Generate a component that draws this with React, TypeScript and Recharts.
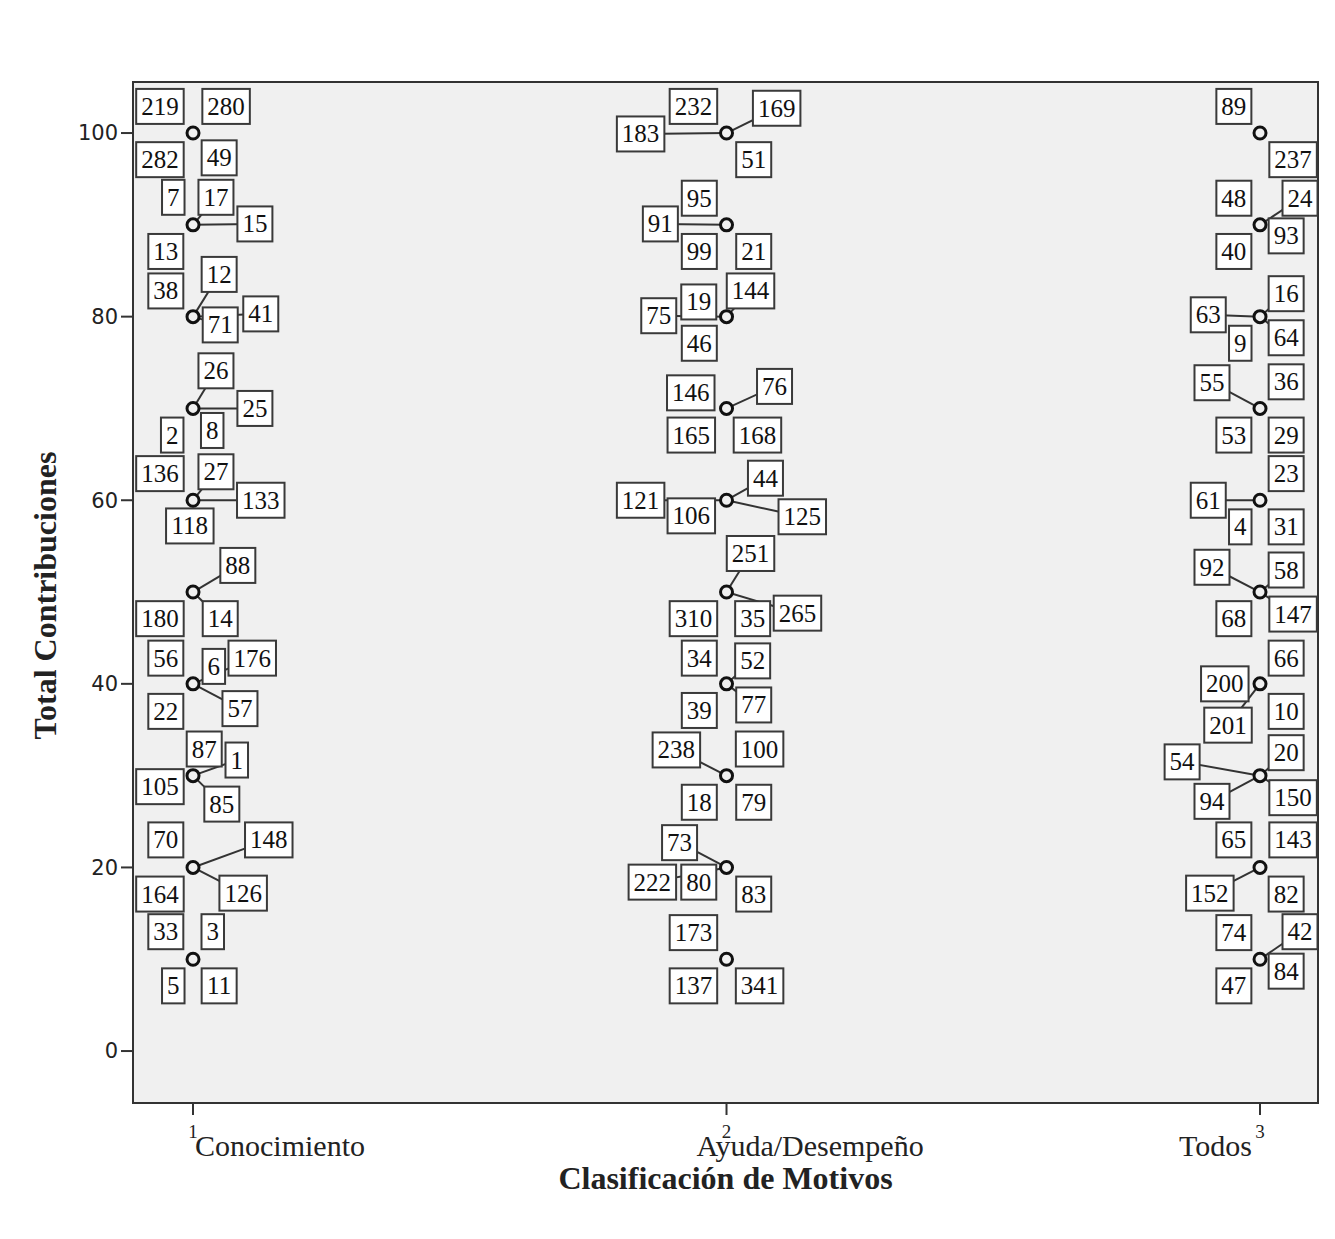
import React from 'react';
import { ScatterChart, Scatter, XAxis, YAxis, CartesianGrid, ReferenceArea } from 'recharts';

// ---- data ----
const categoryCodes = [1, 2, 3];
const categoryNames = ['Conocimiento', 'Ayuda/Desempeño', 'Todos'];
const yTicks = [0, 20, 40, 60, 80, 100];

const valuesConocimiento = [10, 20, 30, 40, 50, 60, 70, 80, 90, 100];
const valuesAyuda = [10, 20, 30, 40, 50, 60, 70, 80, 90, 100];
const valuesTodos = [10, 20, 30, 40, 50, 60, 70, 80, 90, 100];

// [point value, case id, label x offset (category units), label y (value units), leader line]
const labelsConocimiento = [
  [100, 219, -0.062, 102.9, 0], [100, 280, 0.062, 102.9, 0], [100, 282, -0.062, 97.1, 0], [100, 49, 0.049, 97.3, 0],
  [90, 7, -0.037, 93.0, 0], [90, 17, 0.043, 93.0, 1], [90, 15, 0.116, 90.1, 1], [90, 13, -0.051, 87.1, 0],
  [80, 38, -0.051, 82.8, 0], [80, 12, 0.049, 84.6, 1], [80, 41, 0.127, 80.3, 1], [80, 71, 0.051, 79.1, 1],
  [70, 26, 0.043, 74.1, 1], [70, 25, 0.116, 70.0, 1], [70, 2, -0.039, 67.1, 0], [70, 8, 0.036, 67.6, 0],
  [60, 136, -0.062, 62.9, 0], [60, 27, 0.043, 63.1, 1], [60, 133, 0.127, 60.0, 1], [60, 118, -0.006, 57.2, 0],
  [50, 88, 0.084, 52.9, 1], [50, 180, -0.062, 47.1, 0], [50, 14, 0.051, 47.1, 1],
  [40, 56, -0.051, 42.8, 0], [40, 6, 0.039, 41.9, 0], [40, 176, 0.111, 42.8, 1], [40, 22, -0.051, 37.0, 0], [40, 57, 0.088, 37.3, 1],
  [30, 87, 0.021, 32.9, 0], [30, 1, 0.082, 31.7, 1], [30, 105, -0.062, 28.8, 0], [30, 85, 0.054, 26.9, 1],
  [20, 70, -0.051, 23.0, 0], [20, 148, 0.142, 23.0, 1], [20, 164, -0.062, 17.1, 0], [20, 126, 0.094, 17.2, 1],
  [10, 33, -0.051, 13.0, 0], [10, 3, 0.037, 13.0, 0], [10, 5, -0.037, 7.1, 0], [10, 11, 0.049, 7.1, 0],
];

const labelsAyuda = [
  [100, 232, -0.062, 102.9, 0], [100, 169, 0.094, 102.7, 1], [100, 183, -0.161, 99.9, 1], [100, 51, 0.051, 97.1, 0],
  [90, 95, -0.051, 92.9, 0], [90, 91, -0.124, 90.1, 1], [90, 99, -0.051, 87.1, 0], [90, 21, 0.051, 87.1, 0],
  [80, 144, 0.045, 82.8, 1], [80, 19, -0.052, 81.6, 0], [80, 75, -0.127, 80.1, 1], [80, 46, -0.051, 77.1, 0],
  [70, 146, -0.067, 71.7, 0], [70, 76, 0.09, 72.4, 1], [70, 165, -0.066, 67.1, 0], [70, 168, 0.058, 67.1, 0],
  [60, 44, 0.073, 62.4, 1], [60, 121, -0.161, 60.0, 1], [60, 106, -0.066, 58.3, 0], [60, 125, 0.142, 58.2, 1],
  [50, 251, 0.045, 54.2, 1], [50, 310, -0.062, 47.1, 0], [50, 35, 0.049, 47.1, 0], [50, 265, 0.133, 47.7, 1],
  [40, 34, -0.051, 42.8, 0], [40, 52, 0.049, 42.5, 1], [40, 39, -0.051, 37.1, 0], [40, 77, 0.051, 37.7, 1],
  [30, 238, -0.094, 32.8, 1], [30, 100, 0.062, 32.9, 0], [30, 18, -0.051, 27.1, 0], [30, 79, 0.051, 27.1, 0],
  [20, 73, -0.088, 22.7, 1], [20, 222, -0.139, 18.4, 1], [20, 80, -0.052, 18.4, 0], [20, 83, 0.051, 17.1, 0],
  [10, 173, -0.062, 12.9, 0], [10, 137, -0.062, 7.1, 0], [10, 341, 0.062, 7.1, 0],
];

const labelsTodos = [
  [100, 89, -0.049, 102.9, 0], [100, 237, 0.062, 97.1, 0],
  [90, 48, -0.049, 92.9, 0], [90, 24, 0.075, 92.9, 1], [90, 93, 0.049, 88.8, 0], [90, 40, -0.049, 87.1, 0],
  [80, 16, 0.049, 82.5, 1], [80, 63, -0.097, 80.2, 1], [80, 9, -0.037, 77.1, 0], [80, 64, 0.049, 77.7, 1],
  [70, 55, -0.09, 72.8, 1], [70, 36, 0.049, 72.9, 0], [70, 53, -0.049, 67.1, 0], [70, 29, 0.049, 67.1, 0],
  [60, 23, 0.049, 62.9, 0], [60, 61, -0.097, 60.0, 1], [60, 4, -0.037, 57.1, 0], [60, 31, 0.049, 57.1, 0],
  [50, 92, -0.09, 52.7, 1], [50, 58, 0.049, 52.4, 1], [50, 68, -0.049, 47.1, 0], [50, 147, 0.062, 47.6, 1],
  [40, 66, 0.049, 42.8, 0], [40, 200, -0.066, 40.0, 0], [40, 201, -0.06, 35.5, 1], [40, 10, 0.049, 37.0, 0],
  [30, 20, 0.049, 32.5, 1], [30, 54, -0.146, 31.5, 1], [30, 94, -0.09, 27.2, 1], [30, 150, 0.062, 27.6, 1],
  [20, 65, -0.049, 23.0, 0], [20, 143, 0.062, 23.0, 0], [20, 152, -0.094, 17.2, 1], [20, 82, 0.049, 17.1, 0],
  [10, 74, -0.049, 12.9, 0], [10, 42, 0.075, 13.0, 1], [10, 84, 0.049, 8.7, 0], [10, 47, -0.049, 7.1, 0],
];

const X_DOMAIN = [0.8875, 3.1087];
const Y_DOMAIN = [-5.66, 105.56];

// ---- derived tables ----
const valueSets = [valuesConocimiento, valuesAyuda, valuesTodos];
const labelSets = [labelsConocimiento, labelsAyuda, labelsTodos];

const pointData = valueSets.flatMap((vals, i) => vals.map((v) => ({ x: categoryCodes[i], y: v })));
const labelData = labelSets.flatMap((set, i) =>
  set.map(([v, id, dx, ly, lead]) => ({
    x: categoryCodes[i] + dx,
    y: ly,
    id,
    px: categoryCodes[i],
    pv: v,
    lead,
  }))
);
const leaders = labelData.filter((d) => d.lead);

const SERIF = '"Liberation Serif", "Times New Roman", serif';

const LabelBox = (props: any) => {
  const { cx, cy, payload } = props;
  const s = String(payload.id);
  const w = s.length * 12.5 + 10;
  const h = 35;
  return (
    <g>
      <rect x={cx - w / 2} y={cy - h / 2} width={w} height={h} fill="#ffffff" stroke="#3a3a3a" strokeWidth={2} />
      <text x={cx} y={cy + 8.5} textAnchor="middle" fontFamily={SERIF} fontSize={25} fill="#111">
        {s}
      </text>
    </g>
  );
};

const PointMark = (props: any) => {
  const { cx, cy } = props;
  return <circle cx={cx} cy={cy} r={6} fill="#f0f0f0" stroke="#111" strokeWidth={3} />;
};

const EmptyShape = () => <g />;

const CatTick = (props: any) => {
  const { x, y, payload } = props;
  const idx = categoryCodes.indexOf(payload.value);
  const name = categoryNames[idx];
  const anchor = idx === 2 ? 'end' : 'start';
  const nx = idx === 0 ? x + 2 : idx === 1 ? x - 30 : x - 8;
  return (
    <g>
      <text x={x} y={y + 21} textAnchor="middle" fontFamily={SERIF} fontSize={19} fill="#222">
        {payload.value}
      </text>
      <text x={nx} y={y + 39} textAnchor={anchor} fontFamily={SERIF} fontSize={30} fill="#222">
        {name}
      </text>
    </g>
  );
};

const XTitle = (props: any) => {
  const vb = props.viewBox || { x: 133, y: 1103, width: 1185, height: 136 };
  return (
    <text x={vb.x + vb.width / 2} y={vb.y + 86} textAnchor="middle" fontFamily={SERIF} fontWeight="bold" fontSize={32} fill="#222">
      Clasificación de Motivos
    </text>
  );
};

const YTitle = (props: any) => {
  const vb = props.viewBox || { x: 0, y: 82, width: 133, height: 1021 };
  const tx = vb.x + 56;
  const ty = vb.y + vb.height / 2 + 3;
  return (
    <text x={tx} y={ty} transform={`rotate(-90, ${tx}, ${ty})`} textAnchor="middle" fontFamily={SERIF} fontWeight="bold" fontSize={32} fill="#222">
      Total Contribuciones
    </text>
  );
};

export default function App() {
  return (
    <div style={{ position: 'absolute', left: 0, top: 0, width: 1335, height: 1239, background: '#fff' }}>
      <ScatterChart width={1335} height={1239} margin={{ top: 82, right: 17, bottom: 0, left: 0 }}>
        <CartesianGrid fill="#f0f0f0" horizontal={false} vertical={false} />
        <XAxis
          type="number"
          dataKey="x"
          domain={X_DOMAIN}
          ticks={categoryCodes}
          allowDataOverflow
          height={136}
          tick={<CatTick />}
          tickSize={12}
          tickMargin={2}
          axisLine={{ stroke: '#333', strokeWidth: 2 }}
          tickLine={{ stroke: '#333', strokeWidth: 2 }}
          interval={0}
          label={{ content: <XTitle /> }}
        />
        <YAxis
          type="number"
          dataKey="y"
          domain={Y_DOMAIN}
          ticks={yTicks}
          allowDataOverflow
          width={133}
          tickSize={12}
          tickMargin={3}
          tick={{ fontFamily: '"DejaVu Sans", sans-serif', fontSize: 21, fill: '#222' }}
          axisLine={{ stroke: '#333', strokeWidth: 2 }}
          tickLine={{ stroke: '#333', strokeWidth: 2 }}
          interval={0}
          label={{ content: <YTitle /> }}
        />
        <ReferenceArea
          x1={X_DOMAIN[0]}
          x2={X_DOMAIN[1]}
          y1={Y_DOMAIN[0]}
          y2={Y_DOMAIN[1]}
          fill="none"
          fillOpacity={0}
          stroke="#333"
          strokeWidth={2}
          ifOverflow="visible"
        />
        {leaders.map((d, i) => (
          <Scatter
            key={'lead' + i}
            data={[{ x: d.px, y: d.pv }, { x: d.x, y: d.y }]}
            line={{ stroke: '#333', strokeWidth: 2 }}
            shape={EmptyShape}
            isAnimationActive={false}
          />
        ))}
        <Scatter data={labelData} shape={LabelBox} isAnimationActive={false} />
        <Scatter data={pointData} shape={PointMark} isAnimationActive={false} />
      </ScatterChart>
    </div>
  );
}
